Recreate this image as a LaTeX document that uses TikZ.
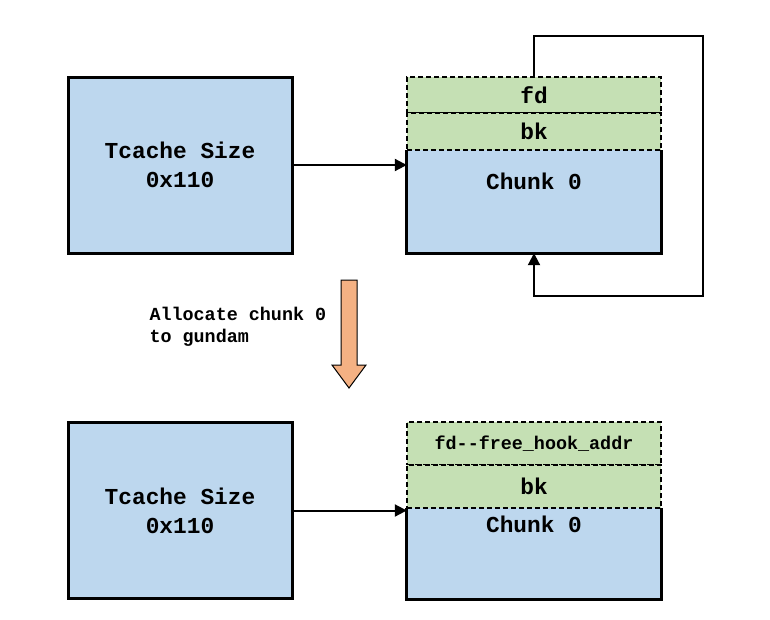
\documentclass[tikz,border=0pt]{standalone}
\usepackage{fontspec}
\setmonofont{Liberation Mono}
\usetikzlibrary{arrows.meta}
\definecolor{cacheblue}{HTML}{BDD7EE}
\definecolor{fieldgreen}{HTML}{C5E0B4}
\definecolor{steporange}{HTML}{F4B183}
\tikzset{every node/.style={font=\ttfamily\bfseries\fontsize{22.8}{29}\selectfont}}

\begin{document}
\begin{tikzpicture}[x=1pt,y=-1pt,
    binbox/.style={draw,line width=3pt,fill=cacheblue,minimum width=224pt,minimum height=176pt,align=center,inner sep=0pt},
    chunkbox/.style={fill=cacheblue,minimum width=254pt,inner sep=0pt},
    fieldbox/.style={draw,dash pattern=on 5pt off 3pt,line width=2pt,fill=fieldgreen,minimum width=254pt,inner sep=0pt},
    smalltext/.style={font=\ttfamily\bfseries\fontsize{18.4}{22}\selectfont},
    link/.style={-{Triangle[length=12pt,width=12pt]},line width=2pt}]
      \useasboundingbox (0,0) rectangle (770,619);
      % \draw[step=50pt,gray,ultra thin] (0,0) grid (770,619);

      % before
      \node[binbox] (binA) at (180,165) {Tcache Size\\0x110};
      \node[chunkbox,minimum height=103pt] (chunkA) at (534,201.5) {};
      \draw[line width=3pt] (chunkA.north west) -- (chunkA.south west) -- (chunkA.south east) -- (chunkA.north east);
      \node[fieldbox,minimum height=36pt] (fdA) at (534,95) {fd};
      \node[fieldbox,minimum height=37pt] (bkA) at (534,131.5) {bk};
      \node (chunkAlbl) at (534,181) {Chunk 0};
      \draw[link] (binA.east) -- (binA.east -| chunkA.west);
      \coordinate (loopTR) at (703,36);
      \coordinate (loopBR) at (703,296);
      \draw[link] (fdA.north) |- (loopTR) -- (loopBR) -| (chunkA.south);

      % step
      \draw[fill=steporange,line width=1pt] (341,280) -- (357,280) -- (357,365) -- (366,365)
        -- (349,388) -- (332,365) -- (341,365) -- cycle;
      \node[smalltext,anchor=west,align=left] (steplbl) at (146,327) {Allocate chunk 0\\to gundam};

      % after
      \node[binbox] (binB) at (180,510.5) {Tcache Size\\0x110};
      \node[chunkbox,minimum height=91pt] (chunkB) at (534,553.5) {};
      \draw[line width=3pt] (chunkB.north west) -- (chunkB.south west) -- (chunkB.south east) -- (chunkB.north east);
      \node[fieldbox,minimum height=43pt,smalltext] (fdB) at (534,443.5) {fd--free\_hook\_addr};
      \node[fieldbox,minimum height=43pt] (bkB) at (534,486.5) {bk};
      \node (chunkBlbl) at (534,524) {Chunk 0};
      \draw[link] (binB.east) -- (binB.east -| chunkB.west);
\end{tikzpicture}
\end{document}
